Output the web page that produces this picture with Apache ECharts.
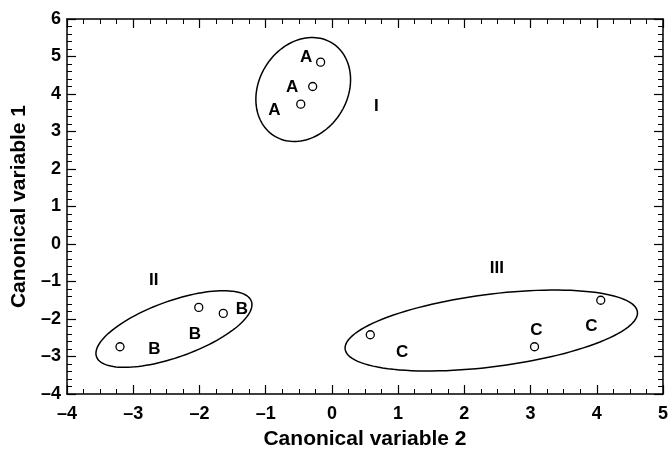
<!DOCTYPE html>
<html>
<head>
<meta charset="utf-8">
<script src="https://cdn.jsdelivr.net/npm/echarts@6/dist/echarts.min.js"></script>
<style>html,body{margin:0;padding:0;background:#fff;}#c{width:671px;height:455px;}</style>
</head>
<body>
<div id="c"></div>
<script>
// Axis ranges / ticks
const xTicks = [-4, -3, -2, -1, 0, 1, 2, 3, 4, 5];
const yTicks = [-4, -3, -2, -1, 0, 1, 2, 3, 4, 5, 6];
const xTitle = 'Canonical variable 2';
const yTitle = 'Canonical variable 1';

// Open-circle observations
const circleX = [-0.17, -0.29, -0.47, -3.20, -2.01, -1.64, 0.58, 3.06, 4.06];
const circleY = [4.85, 4.20, 3.73, -2.74, -1.69, -1.85, -2.42, -2.74, -1.50];

// Letter labels (group means)
const letterText = ['A', 'A', 'A', 'B', 'B', 'B', 'C', 'C', 'C'];
const letterX = [-0.39, -0.60, -0.87, -1.36, -2.07, -2.68, 1.06, 3.09, 3.92];
const letterY = [4.99, 4.18, 3.57, -1.73, -2.40, -2.81, -2.90, -2.29, -2.20];

// Cluster labels
const clusterText = ['I', 'II', 'III'];
const clusterX = [0.67, -2.69, 2.49];
const clusterY = [3.68, -0.96, -0.65];

// Cluster ellipses: centre and two semi-axis vectors (data units)
const ellCx = [-0.433, -2.385, 2.407];
const ellCy = [4.12, -2.267, -2.307];
const ellUx = [0.715, 1.178, 2.208];
const ellUy = [0.264, 0.649, 0.466];
const ellVx = [0, 0, 0];
const ellVy = [1.361, 0.789, 0.974];

const FONT = 'Liberation Sans, Arial, sans-serif';
const fmt = v => String(v).replace('-', '\u2013');

const chart = echarts.init(document.getElementById('c'), null, {renderer: 'canvas'});

const axisCommon = {
  axisLine: {show: true, onZero: false, lineStyle: {color: '#000', width: 1.5}},
  axisTick: {show: true, inside: true, length: 9, lineStyle: {color: '#000', width: 1.2}},
  minorTick: {show: true, length: 5, lineStyle: {color: '#000', width: 1}},
  splitLine: {show: false},
  minorSplitLine: {show: false}
};

const xMin = xTicks[0], xMax = xTicks[xTicks.length - 1];
const yMin = yTicks[0], yMax = yTicks[yTicks.length - 1];

function xAxisDef(pos, labels) {
  return Object.assign({}, axisCommon, {
    type: 'value', position: pos, min: xMin, max: xMax, interval: 1,
    minorTick: Object.assign({}, axisCommon.minorTick, {splitNumber: 4}),
    axisLabel: {show: labels, formatter: fmt, color: '#000', fontSize: 18, fontWeight: 'bold', fontFamily: FONT, margin: 11},
    name: labels ? xTitle : '', nameLocation: 'middle', nameGap: 35,
    nameTextStyle: {color: '#000', fontSize: 21, fontWeight: 'bold', fontFamily: FONT}
  });
}
function yAxisDef(pos, labels) {
  return Object.assign({}, axisCommon, {
    type: 'value', position: pos, min: yMin, max: yMax, interval: 1,
    minorTick: Object.assign({}, axisCommon.minorTick, {splitNumber: 5}),
    axisLabel: {show: labels, formatter: fmt, color: '#000', fontSize: 18, fontWeight: 'bold', fontFamily: FONT, margin: 6},
    name: labels ? yTitle : '', nameLocation: 'middle', nameGap: 35,
    nameTextStyle: {color: '#000', fontSize: 21, fontWeight: 'bold', fontFamily: FONT}
  });
}

const labelStyle = {show: true, position: 'inside', color: '#000', fontSize: 17, fontWeight: 'bold', fontFamily: FONT, formatter: p => p.data[2]};

chart.setOption({
  animation: false,
  backgroundColor: '#fff',
  grid: {left: 67, right: 6, top: 19, bottom: 61},
  xAxis: [xAxisDef('bottom', true), xAxisDef('top', false)],
  yAxis: [yAxisDef('left', true), yAxisDef('right', false)],
  series: [
    {
      type: 'custom',
      data: ellCx.map((c, i) => [c, ellCy[i], ellUx[i], ellUy[i], ellVx[i], ellVy[i]]),
      renderItem: function (params, api) {
        const cx = api.value(0), cy = api.value(1);
        const ux = api.value(2), uy = api.value(3), vx = api.value(4), vy = api.value(5);
        const pts = [];
        const N = 120;
        for (let k = 0; k < N; k++) {
          const t = 2 * Math.PI * k / N;
          pts.push(api.coord([cx + ux * Math.cos(t) + vx * Math.sin(t), cy + uy * Math.cos(t) + vy * Math.sin(t)]));
        }
        return {type: 'polygon', shape: {points: pts}, style: {fill: 'none', stroke: '#000', lineWidth: 1.5}};
      },
      encode: {x: 0, y: 1},
      silent: true, z: 1
    },
    {
      type: 'scatter',
      data: circleX.map((x, i) => [x, circleY[i]]),
      symbol: 'circle', symbolSize: 8,
      itemStyle: {color: '#fff', borderColor: '#000', borderWidth: 1.3, opacity: 1},
      z: 3
    },
    {
      type: 'scatter',
      data: letterX.map((x, i) => [x, letterY[i], letterText[i]]),
      symbolSize: 0, itemStyle: {opacity: 1, color: '#000'}, label: labelStyle, z: 4
    },
    {
      type: 'scatter',
      data: clusterX.map((x, i) => [x, clusterY[i], clusterText[i]]),
      symbolSize: 0, itemStyle: {opacity: 1, color: '#000'}, label: labelStyle, z: 4
    }
  ]
});
</script>
</body>
</html>
